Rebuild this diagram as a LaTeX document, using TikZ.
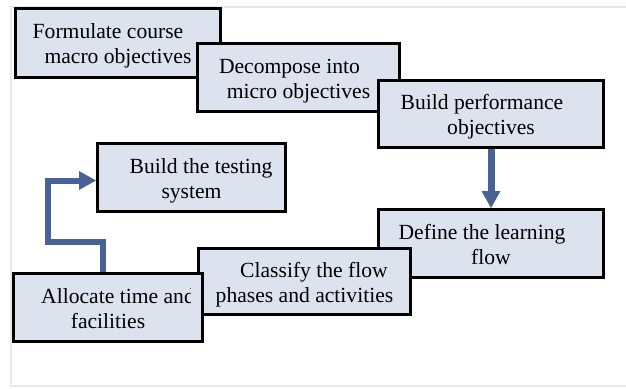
\documentclass[tikz,border=0pt]{standalone}
\usepackage{fontspec}
\setmainfont{Liberation Serif}
\newfontfamily\stageface{Liberation Serif}
\usetikzlibrary{arrows.meta}

\definecolor{boxfill}{HTML}{DCE3EF}
\definecolor{flowblue}{HTML}{4A6196}
\definecolor{framegray}{HTML}{E6E9F0}

% horizontal padding used to nudge a first line off centre
\newcommand{\padby}[1]{\rule{#1}{0pt}}
% fixed height of a first line and depth of a last line
\newcommand{\topline}{\rule{0pt}{24pt}}
\newcommand{\botline}{\rule[-8pt]{0pt}{8pt}}
% a "d" whose stem is hidden under the box colour
\newcommand{\cutd}{d\llap{\textcolor{boxfill}{\rule[-0.06em]{0.19em}{0.76em}}}}

\begin{document}
\begin{tikzpicture}[x=1pt,y=-1pt,
  stage/.style={draw=black, line width=2.6pt, fill=boxfill, inner sep=0pt,
    align=center, font=\stageface\fontsize{21.6}{25}\selectfont},
  flow/.style={draw=flowblue, line join=miter,
    -{Triangle[width=19pt,length=17pt,line width=0pt]}}]

\useasboundingbox (0,0) rectangle (626,388);

% light frame around the sheet
\draw[framegray, line width=1.2pt] (626,7) -- (11,7) -- (11,386) -- (626,386);

\node[stage, minimum width=205.4pt, minimum height=69.4pt] (macro) at (118,43)
  {\topline Formulate course\padby{20pt}\\macro objectives\botline};
\node[stage, minimum width=202.4pt, minimum height=68.4pt] (micro) at (298.5,77.5)
  {\topline Decompose into\padby{18pt}\\micro objectives\botline};
\node[stage, minimum width=225.4pt, minimum height=67.4pt] (perf) at (491,114)
  {\topline Build performance\padby{18pt}\\objectives\botline};
\node[stage, minimum width=225.4pt, minimum height=68.4pt] (learn) at (491,243.5)
  {\topline Define the learning\padby{18pt}\\flow\botline};
\node[stage, minimum width=212.4pt, minimum height=66.4pt] (classify) at (304.5,281.5)
  {\topline\padby{19pt}Classify the flow\\phases and activities\botline};
\node[stage, minimum width=189.4pt, minimum height=68.4pt] (alloc) at (108,307.5)
  {\topline\padby{20pt}Allocate time an\cutd\\facilities\botline};
\node[stage, minimum width=188.4pt, minimum height=68.4pt] (test) at (191.5,177.5)
  {\topline\padby{19pt}Build the testing\\system\botline};

% connectors
\draw[flow, line width=7pt] (perf.south) -- (learn.north);
\draw[flow, line width=6pt] ([xshift=-5pt]alloc.north) |- (47.5,242)
  |- (test.west |- 0,180.5);

\end{tikzpicture}
\end{document}
